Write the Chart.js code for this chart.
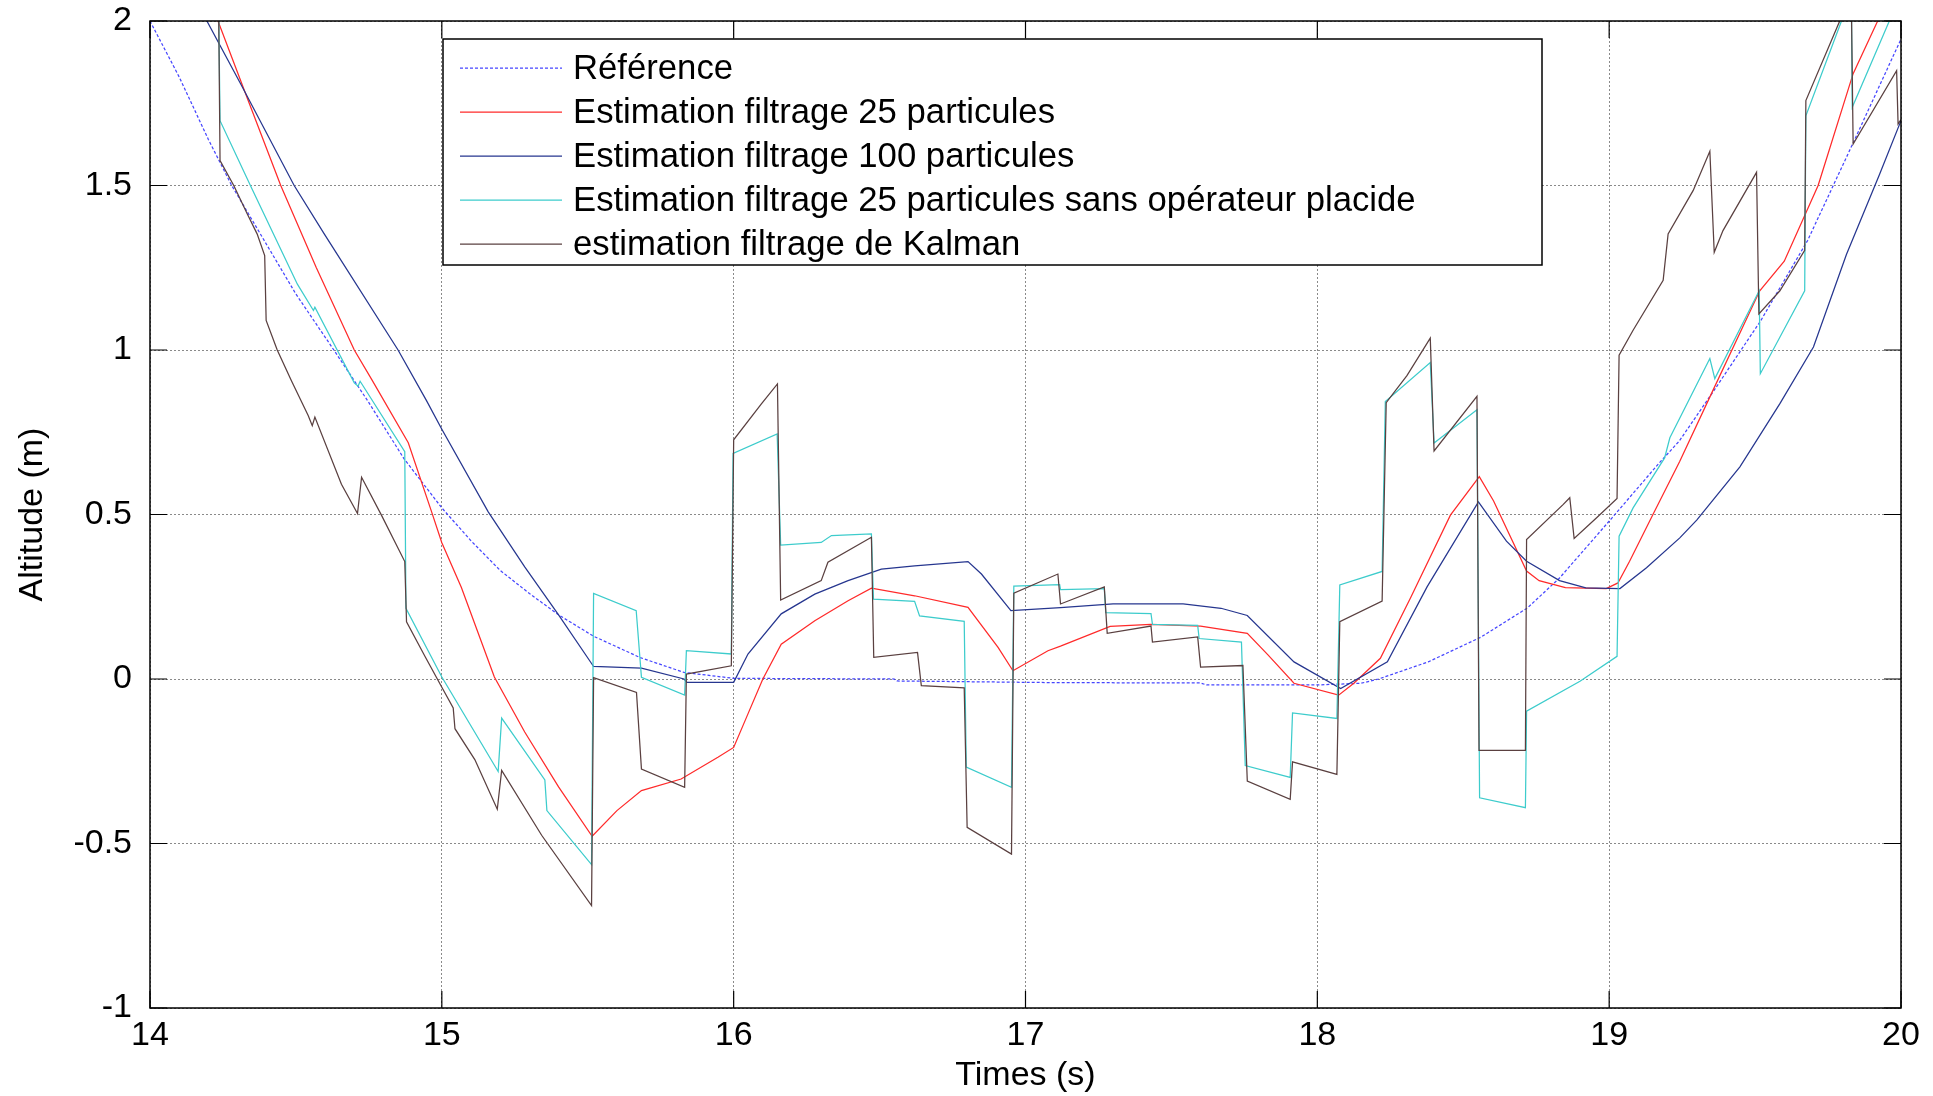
<!DOCTYPE html>
<html>
<head>
<meta charset="utf-8">
<title>Altitude - estimations</title>
<script src="https://cdn.jsdelivr.net/npm/chart.js@4.4.1/dist/chart.umd.min.js"></script>
<style>
  html, body { margin: 0; padding: 0; background: #fff; }
  canvas { display: block; }
</style>
</head>
<body>
<canvas id="altitudeChart" width="1933" height="1096"></canvas>
<script>
// Axis ticks
const xTicks = [14, 15, 16, 17, 18, 19, 20];
const yTicks = [-1, -0.5, 0, 0.5, 1, 1.5, 2];

// Reference trajectory
const refX = [14.00, 14.10, 14.20, 14.28, 14.40, 14.50, 14.63, 14.75, 14.87, 15.00, 15.10, 15.20, 15.30, 15.40,
  15.52, 15.68, 15.83, 16.00, 16.55, 16.56, 17.10, 17.60, 17.62, 18.00, 18.15, 18.21, 18.38, 18.56, 18.72,
  18.83, 19.01, 19.17, 19.24, 19.36, 19.52, 19.68, 19.84, 20.00];
const refY = [2.00, 1.83, 1.64, 1.50, 1.32, 1.17, 1.00, 0.84, 0.67, 0.52, 0.42, 0.33, 0.26, 0.195,
  0.13, 0.065, 0.02, 0.002, 0.0, -0.006, -0.011, -0.012, -0.018, -0.018, -0.013, 0.0, 0.052, 0.127, 0.216,
  0.307, 0.49, 0.655, 0.723, 0.878, 1.09, 1.333, 1.637, 1.945];

// Particle filter, 25 particles
const pf25X = [14.21, 14.233, 14.34, 14.448, 14.57, 14.70, 14.76, 14.885, 14.965, 15.0, 15.067, 15.18, 15.284,
  15.40, 15.515, 15.60, 15.684, 15.82, 15.946, 16.0, 16.049, 16.10, 16.163, 16.278, 16.392, 16.472, 16.62,
  16.803, 16.906, 16.957, 17.077, 17.12, 17.29, 17.43, 17.60, 17.76, 17.83, 17.92, 18.073, 18.125, 18.216,
  18.32, 18.456, 18.555, 18.604, 18.717, 18.76, 18.85, 18.99, 19.03, 19.07, 19.15, 19.242, 19.356, 19.516,
  19.60, 19.716, 19.836, 19.92, 19.95];
const pf25Y = [2.05, 2.0, 1.75, 1.5, 1.25, 1.0, 0.91, 0.718, 0.508, 0.414, 0.278, 0.006, -0.161,
  -0.328, -0.478, -0.40, -0.339, -0.304, -0.238, -0.208, -0.106, 0.0, 0.106, 0.177, 0.238, 0.276, 0.253,
  0.218, 0.096, 0.025, 0.086, 0.10, 0.16, 0.166, 0.161, 0.139, 0.074, -0.013, -0.049, -0.013, 0.063,
  0.248, 0.498, 0.615, 0.541, 0.328, 0.299, 0.278, 0.275, 0.292, 0.358, 0.5, 0.662, 0.878, 1.18,
  1.27, 1.5, 1.84, 2.0, 2.06];

// Particle filter, 100 particles
const pf100X = [14.17, 14.195, 14.31, 14.494, 14.597, 14.85, 14.947, 15.0, 15.159, 15.284, 15.40, 15.52, 15.684,
  15.83, 15.84, 16.0, 16.049, 16.163, 16.278, 16.392, 16.506, 16.62, 16.803, 16.849, 16.95, 17.12, 17.30,
  17.54, 17.67, 17.76, 17.92, 18.08, 18.24, 18.376, 18.552, 18.648, 18.717, 18.83, 18.92, 19.037, 19.128,
  19.242, 19.30, 19.448, 19.585, 19.70, 19.813, 19.927, 20.0];
const pf100Y = [2.05, 2.0, 1.81, 1.5, 1.353, 1.0, 0.847, 0.759, 0.508, 0.341, 0.195, 0.038, 0.033,
  0.0, -0.01, -0.01, 0.076, 0.198, 0.258, 0.299, 0.334, 0.344, 0.357, 0.319, 0.208, 0.217, 0.228,
  0.228, 0.215, 0.193, 0.052, -0.029, 0.052, 0.28, 0.538, 0.419, 0.358, 0.299, 0.277, 0.275, 0.338,
  0.429, 0.483, 0.645, 0.837, 1.009, 1.29, 1.535, 1.697];

// Particle filter, 25 particles, no placid operator
const pfNoOpX = [14.235, 14.24, 14.344, 14.505, 14.56, 14.565, 14.70, 14.713, 14.72, 14.873, 14.877, 15.0,
  15.193, 15.205, 15.353, 15.36, 15.513, 15.52, 15.666, 15.684, 15.832, 15.838, 15.992, 15.998, 16.149,
  16.161, 16.30, 16.335, 16.472, 16.479, 16.62, 16.637, 16.79, 16.797, 16.952, 16.96, 17.117, 17.12, 17.27,
  17.275, 17.43, 17.435, 17.59, 17.595, 17.74, 17.753, 17.907, 17.915, 18.067, 18.077, 18.222, 18.233,
  18.387, 18.40, 18.547, 18.556, 18.713, 18.717, 18.90, 19.027, 19.034, 19.082, 19.19, 19.208, 19.345,
  19.362, 19.514, 19.518, 19.67, 19.674, 19.796, 19.81, 19.83, 19.833, 19.96, 19.98];
const pfNoOpY = [2.06, 1.697, 1.5, 1.2, 1.12, 1.13, 0.90, 0.89, 0.905, 0.691, 0.215, 0.006,
  -0.281, -0.119, -0.307, -0.40, -0.564, 0.26, 0.208, 0.005, -0.049, 0.086, 0.076, 0.686, 0.745,
  0.407, 0.415, 0.436, 0.441, 0.243, 0.236, 0.192, 0.175, -0.268, -0.329, 0.282, 0.287, 0.272, 0.275,
  0.202, 0.199, 0.166, 0.163, 0.123, 0.112, -0.263, -0.299, -0.103, -0.12, 0.286, 0.327, 0.843,
  0.962, 0.717, 0.818, -0.361, -0.391, -0.098, -0.007, 0.069, 0.434, 0.52, 0.672, 0.733, 0.974,
  0.913, 1.18, 0.928, 1.18, 1.712, 2.0, 2.05, 2.05, 1.738, 2.0, 2.04];

// Kalman filter
const kalX = [14.235, 14.24, 14.287, 14.333, 14.367, 14.393, 14.398, 14.436, 14.485, 14.542, 14.556, 14.565,
  14.656, 14.711, 14.725, 14.793, 14.873, 14.879, 14.942, 15.0, 15.039, 15.045, 15.113, 15.19, 15.205,
  15.342, 15.513, 15.52, 15.667, 15.684, 15.832, 15.838, 15.992, 16.0, 16.095, 16.15, 16.161, 16.30,
  16.323, 16.472, 16.48, 16.63, 16.643, 16.79, 16.80, 16.952, 16.96, 17.111, 17.12, 17.27, 17.28, 17.43,
  17.435, 17.59, 17.60, 17.745, 17.76, 17.907, 17.915, 18.067, 18.077, 18.222, 18.236, 18.307, 18.387,
  18.40, 18.547, 18.554, 18.713, 18.717, 18.842, 18.865, 18.88, 18.957, 19.027, 19.034, 19.082, 19.185,
  19.202, 19.288, 19.345, 19.36, 19.39, 19.505, 19.513, 19.585, 19.67, 19.674, 19.79, 19.80, 19.83,
  19.836, 19.985, 19.99, 20.0];
const kalY = [2.06, 1.576, 1.5, 1.414, 1.353, 1.287, 1.09, 1.0, 0.906, 0.801, 0.77, 0.796,
  0.592, 0.503, 0.613, 0.498, 0.357, 0.174, 0.069, -0.025, -0.088, -0.151, -0.245, -0.396, -0.278,
  -0.475, -0.689, 0.004, -0.041, -0.274, -0.329, 0.015, 0.04, 0.727, 0.836, 0.897, 0.24, 0.299,
  0.355, 0.431, 0.066, 0.081, -0.02, -0.027, -0.451, -0.532, 0.261, 0.319, 0.228, 0.28, 0.139, 0.161,
  0.112, 0.128, 0.036, 0.041, -0.31, -0.366, -0.252, -0.29, 0.174, 0.237, 0.84, 0.922, 1.036,
  0.693, 0.859, -0.217, -0.217, 0.424, 0.53, 0.551, 0.427, 0.49, 0.549, 0.984, 1.06, 1.212,
  1.353, 1.485, 1.604, 1.297, 1.363, 1.54, 1.11, 1.18, 1.303, 1.758, 2.0, 2.05, 2.05,
  1.626, 1.849, 1.687, 1.70];

const seriesLabels = [
  'Référence',
  'Estimation filtrage 25 particules',
  'Estimation filtrage 100 particules',
  'Estimation filtrage 25 particules sans opérateur placide',
  'estimation filtrage de Kalman'
];

const FONT = '"Liberation Sans", Arial, Helvetica, sans-serif';

function toPoints(xs, ys) {
  return xs.map((x, i) => ({ x: x, y: ys[i] }));
}

function makeSeries(i, xs, ys, color, dash) {
  return {
    label: seriesLabels[i],
    data: toPoints(xs, ys),
    borderColor: color,
    borderWidth: 1.25,
    borderDash: dash || [],
    pointRadius: 0,
    tension: 0,
    fill: false,
    order: 5 - i   // later series drawn on top, like MATLAB
  };
}

// MATLAB-like box, inward ticks and legend
const matlabAxes = {
  id: 'matlabAxes',
  afterDraw(chart) {
    const { ctx, chartArea: a, scales: { x, y } } = chart;
    ctx.save();
    ctx.strokeStyle = '#000';
    ctx.lineWidth = 1.5;
    ctx.strokeRect(a.left, a.top, a.right - a.left, a.bottom - a.top);

    const len = 17;
    ctx.lineWidth = 1.2;
    ctx.beginPath();
    xTicks.forEach(v => {
      const px = x.getPixelForValue(v);
      ctx.moveTo(px, a.bottom); ctx.lineTo(px, a.bottom - len);
      ctx.moveTo(px, a.top); ctx.lineTo(px, a.top + len);
    });
    yTicks.forEach(v => {
      const py = y.getPixelForValue(v);
      ctx.moveTo(a.left, py); ctx.lineTo(a.left + len, py);
      ctx.moveTo(a.right, py); ctx.lineTo(a.right - len, py);
    });
    ctx.stroke();

    // legend box
    const lx = 443, ly = 39, lw = 1099, lh = 226;
    ctx.fillStyle = '#fff';
    ctx.fillRect(lx, ly, lw, lh);
    ctx.lineWidth = 1.5;
    ctx.strokeStyle = '#000';
    ctx.strokeRect(lx, ly, lw, lh);

    ctx.font = '34.7px ' + FONT;
    ctx.textBaseline = 'middle';
    ctx.textAlign = 'left';
    chart.data.datasets.forEach((ds, i) => {
      const cy = 68 + i * 44;
      ctx.strokeStyle = ds.borderColor;
      ctx.lineWidth = ds.borderWidth;
      ctx.setLineDash(ds.borderDash);
      ctx.beginPath();
      ctx.moveTo(460, cy);
      ctx.lineTo(562, cy);
      ctx.stroke();
      ctx.setLineDash([]);
      ctx.fillStyle = '#000';
      ctx.fillText(ds.label, 573, cy + 1);
    });
    ctx.restore();
  }
};

const ctx = document.getElementById('altitudeChart').getContext('2d');

new Chart(ctx, {
  type: 'line',
  data: {
    datasets: [
      makeSeries(0, refX, refY, 'rgba(50,50,255,0.9)', [3, 2]),
      makeSeries(1, pf25X, pf25Y, '#ff2a2a'),
      makeSeries(2, pf100X, pf100Y, '#26368f'),
      makeSeries(3, pfNoOpX, pfNoOpY, '#3dcccc'),
      makeSeries(4, kalX, kalY, '#5a4040')
    ]
  },
  options: {
    responsive: false,
    animation: false,
    devicePixelRatio: 1,
    layout: { padding: { left: 0, right: 32, top: 21, bottom: 0 } },
    plugins: {
      legend: { display: false },
      tooltip: { enabled: false }
    },
    scales: {
      x: {
        type: 'linear',
        min: 14,
        max: 20,
        afterBuildTicks: axis => { axis.ticks = xTicks.map(v => ({ value: v })); },
        afterFit: axis => { axis.height = 88; },
        grid: { color: '#8a8a8a', lineWidth: 1, drawTicks: true, tickLength: 7, tickColor: 'rgba(0,0,0,0)' },
        border: { display: false, dash: [2, 2] },
        ticks: { color: '#000', font: { family: FONT, size: 34 }, padding: 0, maxRotation: 0,
          callback: v => String(v) },
        title: { display: true, text: 'Times (s)', color: '#000', font: { family: FONT, size: 34 }, padding: { top: 0, bottom: 0 } }
      },
      y: {
        type: 'linear',
        min: -1,
        max: 2,
        afterBuildTicks: axis => { axis.ticks = yTicks.map(v => ({ value: v })); },
        afterFit: axis => { axis.width = 150; },
        grid: { color: '#8a8a8a', lineWidth: 1, drawTicks: true, tickLength: 18, tickColor: 'rgba(0,0,0,0)' },
        border: { display: false, dash: [2, 2] },
        ticks: { color: '#000', font: { family: FONT, size: 34 }, padding: 0,
          callback: v => String(v) },
        title: { display: true, text: 'Altitude (m)', color: '#000', font: { family: FONT, size: 34 }, padding: { top: 12, bottom: 0 } }
      }
    }
  },
  plugins: [matlabAxes]
});
</script>
</body>
</html>
